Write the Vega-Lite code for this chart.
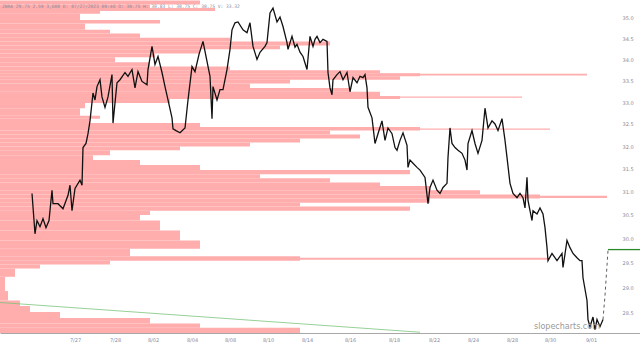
{
  "$schema": "https://vega.github.io/schema/vega-lite/v6.json",
  "width": 640,
  "height": 333,
  "autosize": "none",
  "padding": {"left": 0, "top": 0, "right": 0, "bottom": 12},
  "background": "white",
  "config": {"view": {"stroke": null}},
  "title": {"text": "ZBRA  29.75 2.59 3,600 D: 07/27/2023 09:46 O: 30.75 H: 30.83 L: 30.75 C: 30.75 V: 33.32", "anchor": "start", "frame": "group", "orient": "top", "offset": 0, "dy": 9, "dx": 2, "font": "DejaVu Sans Mono", "fontSize": 4.6, "fontWeight": "normal", "color": "#8a8a9a"},
  "datasets": {
    "profile": [
      {"lo":35.33,"hi":35.43,"vol":200},{"lo":35.24,"hi":35.33,"vol":150},{"lo":35.17,"hi":35.24,"vol":215},{"lo":35.10,"hi":35.17,"vol":100},
      {"lo":34.95,"hi":35.10,"vol":80},{"lo":34.86,"hi":34.95,"vol":160},{"lo":34.71,"hi":34.86,"vol":85},{"lo":34.62,"hi":34.71,"vol":110},
      {"lo":34.52,"hi":34.62,"vol":140},{"lo":34.43,"hi":34.52,"vol":230},{"lo":34.33,"hi":34.43,"vol":330},{"lo":34.24,"hi":34.33,"vol":280},
      {"lo":34.14,"hi":34.24,"vol":200},{"lo":34.05,"hi":34.14,"vol":155},{"lo":33.93,"hi":34.05,"vol":115},{"lo":33.83,"hi":33.93,"vol":150},
      {"lo":33.74,"hi":33.83,"vol":230},{"lo":33.67,"hi":33.74,"vol":380},{"lo":33.60,"hi":33.67,"vol":420},{"lo":33.52,"hi":33.60,"vol":400},
      {"lo":33.43,"hi":33.52,"vol":290},{"lo":33.33,"hi":33.43,"vol":250},{"lo":33.24,"hi":33.33,"vol":350},{"lo":33.14,"hi":33.24,"vol":380},
      {"lo":33.07,"hi":33.14,"vol":400},{"lo":32.98,"hi":33.07,"vol":170},{"lo":32.86,"hi":32.98,"vol":85},{"lo":32.69,"hi":32.86,"vol":80},
      {"lo":32.62,"hi":32.69,"vol":100},{"lo":32.52,"hi":32.62,"vol":90},{"lo":32.43,"hi":32.52,"vol":200},{"lo":32.35,"hi":32.43,"vol":420},
      {"lo":32.26,"hi":32.35,"vol":330},{"lo":32.17,"hi":32.26,"vol":360},{"lo":32.08,"hi":32.17,"vol":300},{"lo":31.99,"hi":32.08,"vol":250},
      {"lo":31.91,"hi":31.99,"vol":180},{"lo":31.80,"hi":31.91,"vol":110},{"lo":31.69,"hi":31.80,"vol":93},{"lo":31.58,"hi":31.69,"vol":140},
      {"lo":31.47,"hi":31.58,"vol":200},{"lo":31.38,"hi":31.47,"vol":410},{"lo":31.29,"hi":31.38,"vol":260},{"lo":31.20,"hi":31.29,"vol":330},
      {"lo":31.12,"hi":31.20,"vol":380},{"lo":31.03,"hi":31.12,"vol":430},{"lo":30.94,"hi":31.03,"vol":480},{"lo":30.85,"hi":30.94,"vol":540},
      {"lo":30.76,"hi":30.85,"vol":430},{"lo":30.68,"hi":30.76,"vol":300},{"lo":30.59,"hi":30.68,"vol":410},{"lo":30.50,"hi":30.59,"vol":150},
      {"lo":30.38,"hi":30.50,"vol":140},{"lo":30.17,"hi":30.38,"vol":160},{"lo":29.96,"hi":30.17,"vol":180},{"lo":29.79,"hi":29.96,"vol":200},
      {"lo":29.63,"hi":29.79,"vol":130},{"lo":29.54,"hi":29.63,"vol":300},{"lo":29.46,"hi":29.54,"vol":110},{"lo":29.38,"hi":29.46,"vol":40},
      {"lo":29.21,"hi":29.38,"vol":15},{"lo":28.92,"hi":29.21,"vol":5},{"lo":28.73,"hi":28.92,"vol":8},{"lo":28.62,"hi":28.73,"vol":20},
      {"lo":28.50,"hi":28.62,"vol":30},{"lo":28.38,"hi":28.50,"vol":60},{"lo":28.27,"hi":28.38,"vol":150},{"lo":28.19,"hi":28.27,"vol":200},
      {"lo":28.085,"hi":28.19,"vol":300},
      {"lo":33.62,"hi":33.66,"vol":587},{"lo":33.10,"hi":33.13,"vol":522},{"lo":32.37,"hi":32.40,"vol":550},{"lo":30.86,"hi":30.91,"vol":607},{"lo":29.56,"hi":29.60,"vol":547}
    ],
    "price": [
      {"t":32,"p":30.96},{"t":35,"p":30.10},{"t":37,"p":30.38},{"t":40,"p":30.25},{"t":43,"p":30.42},{"t":46,"p":30.23},{"t":49,"p":30.38},
      {"t":52,"p":31.03},{"t":53,"p":30.74},{"t":58,"p":30.74},{"t":63,"p":30.63},{"t":68,"p":30.92},{"t":70,"p":31.14},{"t":72,"p":30.59},
      {"t":75,"p":31.07},{"t":80,"p":31.25},{"t":82,"p":31.14},{"t":83,"p":31.97},{"t":86,"p":32.06},{"t":88,"p":32.28},{"t":90,"p":32.57},
      {"t":93,"p":33.21},{"t":95,"p":33.05},{"t":97,"p":33.36},{"t":100,"p":33.52},{"t":102,"p":33.12},{"t":105,"p":32.88},{"t":108,"p":33.12},
      {"t":112,"p":33.64},{"t":113,"p":32.52},{"t":117,"p":33.45},{"t":120,"p":33.52},{"t":125,"p":33.69},{"t":128,"p":33.60},{"t":132,"p":33.76},
      {"t":135,"p":33.33},{"t":138,"p":33.71},{"t":142,"p":33.48},{"t":147,"p":33.40},{"t":148,"p":33.76},{"t":152,"p":34.31},{"t":155,"p":33.88},
      {"t":158,"p":34.07},{"t":162,"p":33.69},{"t":165,"p":33.36},{"t":168,"p":33.05},{"t":172,"p":32.64},{"t":173,"p":32.39},{"t":176,"p":32.35},
      {"t":180,"p":32.30},{"t":185,"p":32.41},{"t":188,"p":33.05},{"t":192,"p":33.83},{"t":195,"p":33.71},{"t":199,"p":34.12},{"t":203,"p":34.43},
      {"t":207,"p":33.95},{"t":210,"p":33.60},{"t":212,"p":32.62},{"t":213,"p":33.36},{"t":217,"p":33.05},{"t":220,"p":33.29},{"t":223,"p":33.29},
      {"t":227,"p":33.76},{"t":230,"p":34.24},{"t":232,"p":34.71},{"t":235,"p":34.88},{"t":238,"p":34.90},{"t":243,"p":34.71},{"t":247,"p":34.64},
      {"t":250,"p":34.88},{"t":253,"p":34.31},{"t":257,"p":34.00},{"t":260,"p":34.17},{"t":265,"p":34.31},{"t":267,"p":34.40},{"t":268,"p":34.64},
      {"t":270,"p":35.12},{"t":273,"p":35.24},{"t":277,"p":34.90},{"t":280,"p":35.02},{"t":283,"p":34.79},{"t":287,"p":34.40},{"t":288,"p":34.24},
      {"t":292,"p":34.55},{"t":295,"p":34.29},{"t":297,"p":34.36},{"t":300,"p":34.17},{"t":303,"p":34.07},{"t":307,"p":33.76},{"t":310,"p":34.55},
      {"t":313,"p":34.31},{"t":315,"p":34.48},{"t":317,"p":34.55},{"t":320,"p":34.40},{"t":323,"p":34.48},{"t":327,"p":34.43},{"t":328,"p":33.69},
      {"t":330,"p":33.33},{"t":332,"p":33.17},{"t":333,"p":33.52},{"t":337,"p":33.64},{"t":340,"p":33.71},{"t":343,"p":33.52},{"t":347,"p":33.69},
      {"t":350,"p":33.24},{"t":353,"p":33.57},{"t":357,"p":33.45},{"t":360,"p":33.60},{"t":363,"p":33.57},{"t":365,"p":33.64},{"t":367,"p":33.33},
      {"t":368,"p":32.88},{"t":372,"p":32.64},{"t":375,"p":32.06},{"t":378,"p":32.28},{"t":382,"p":32.57},{"t":385,"p":32.13},{"t":388,"p":32.41},
      {"t":392,"p":32.28},{"t":395,"p":31.97},{"t":397,"p":31.91},{"t":400,"p":32.13},{"t":403,"p":32.30},{"t":407,"p":32.02},{"t":408,"p":31.53},
      {"t":410,"p":31.69},{"t":413,"p":31.62},{"t":417,"p":31.53},{"t":420,"p":31.47},{"t":425,"p":31.31},{"t":428,"p":30.74},{"t":430,"p":31.09},
      {"t":433,"p":31.25},{"t":437,"p":31.03},{"t":440,"p":30.96},{"t":443,"p":31.09},{"t":447,"p":31.18},{"t":448,"p":31.75},{"t":450,"p":32.41},
      {"t":452,"p":32.06},{"t":455,"p":31.97},{"t":458,"p":31.91},{"t":462,"p":31.84},{"t":465,"p":31.69},{"t":467,"p":31.47},{"t":468,"p":32.06},
      {"t":472,"p":32.35},{"t":475,"p":32.06},{"t":478,"p":31.84},{"t":482,"p":32.13},{"t":485,"p":32.86},{"t":488,"p":32.41},{"t":492,"p":32.57},
      {"t":495,"p":32.50},{"t":498,"p":32.35},{"t":502,"p":32.62},{"t":505,"p":32.13},{"t":507,"p":31.75},{"t":510,"p":31.18},{"t":513,"p":30.96},
      {"t":517,"p":30.87},{"t":520,"p":30.96},{"t":523,"p":30.87},{"t":525,"p":30.65},{"t":527,"p":31.31},{"t":528,"p":30.81},{"t":530,"p":30.59},
      {"t":532,"p":30.38},{"t":533,"p":30.59},{"t":537,"p":30.52},{"t":540,"p":30.65},{"t":543,"p":30.52},{"t":545,"p":30.23},{"t":547,"p":29.81},
      {"t":548,"p":29.54},{"t":552,"p":29.69},{"t":557,"p":29.54},{"t":562,"p":29.69},{"t":563,"p":29.40},{"t":567,"p":29.96},{"t":570,"p":29.81},
      {"t":573,"p":29.69},{"t":577,"p":29.60},{"t":580,"p":29.54},{"t":582,"p":29.54},{"t":583,"p":29.19},{"t":587,"p":28.73},{"t":588,"p":28.35},
      {"t":590,"p":28.21},{"t":593,"p":28.40},{"t":595,"p":28.15},{"t":597,"p":28.35},{"t":600,"p":28.21},{"t":603,"p":28.35}
    ],
    "gap": [{"t":603,"p":28.35},{"t":605,"p":28.83},{"t":608,"p":29.75}],
    "trend": [{"t":0,"p":28.69},{"t":420,"p":28.10}],
    "last": [{"t":608,"p":29.77},{"t":640,"p":29.77}],
    "mark": [{"t":567,"p":28.21,"label":"slopecharts.com"}]
  },
  "resolve": {"scale": {"x": "independent"}},
  "layer": [
    {
      "data": {"name": "profile"},
      "mark": {"type": "rect", "color": "#ffadad"},
      "encoding": {
        "x": {"field": "vol", "type": "quantitative", "scale": {"domain": [0, 640], "nice": false}, "axis": null},
        "x2": {"datum": 0},
        "y": {"field": "lo", "type": "quantitative", "scale": {"type": "log", "domain": [28.085, 35.44], "nice": false, "zero": false}, "axis": {"orient": "right", "offset": -20, "values": [28.5,29,29.5,30,30.5,31,31.5,32,32.5,33,33.5,34,34.5,35], "format": ".1f", "title": null, "ticks": false, "domain": false, "grid": false, "labelFontSize": 5, "labelColor": "#8a8a9a", "labelPadding": 2, "labelFont": "DejaVu Sans", "labelOverlap": false}},
        "y2": {"field": "hi"}
      }
    },
    {
      "layer": [
        {
          "data": {"name": "trend"},
          "mark": {"type": "line", "color": "#7cc47c", "strokeWidth": 0.8},
          "encoding": {
            "x": {"field": "t", "type": "quantitative", "scale": {"domain": [0, 640], "nice": false}, "axis": {"values": [75,115,153,192,230,268,307,350,394,434,473,512,550,591], "labelExpr": "['7/27','7/28','8/02','8/04','8/08','8/10','8/14','8/16','8/18','8/22','8/24','8/28','8/30','9/01'][indexof([75,115,153,192,230,268,307,350,394,434,473,512,550,591], datum.value)]", "title": null, "ticks": false, "grid": false, "domain": true, "domainColor": "#a8a8a8", "domainWidth": 1, "labelFontSize": 5, "labelColor": "#8a8a9a", "labelPadding": 4, "labelFont": "DejaVu Sans"}},
            "y": {"field": "p", "type": "quantitative", "scale": {"type": "log", "domain": [28.085, 35.44], "nice": false, "zero": false}, "axis": {"orient": "right", "offset": -20, "values": [28.5,29,29.5,30,30.5,31,31.5,32,32.5,33,33.5,34,34.5,35], "format": ".1f", "title": null, "ticks": false, "domain": false, "grid": false, "labelFontSize": 5, "labelColor": "#8a8a9a", "labelPadding": 2, "labelFont": "DejaVu Sans", "labelOverlap": false}}
          }
        },
        {
          "data": {"name": "price"},
          "mark": {"type": "line", "color": "#111111", "strokeWidth": 1.3},
          "encoding": {
            "x": {"field": "t", "type": "quantitative"},
            "y": {"field": "p", "type": "quantitative"}
          }
        },
        {
          "data": {"name": "gap"},
          "mark": {"type": "line", "color": "#333333", "strokeWidth": 0.8, "strokeDash": [3, 3]},
          "encoding": {
            "x": {"field": "t", "type": "quantitative"},
            "y": {"field": "p", "type": "quantitative"}
          }
        },
        {
          "data": {"name": "last"},
          "mark": {"type": "line", "color": "#2a8a2a", "strokeWidth": 1.3},
          "encoding": {
            "x": {"field": "t", "type": "quantitative"},
            "y": {"field": "p", "type": "quantitative"}
          }
        },
        {
          "data": {"name": "mark"},
          "mark": {"type": "text", "color": "#9a9a9a", "fontSize": 8, "font": "DejaVu Sans", "baseline": "middle", "align": "center"},
          "encoding": {
            "x": {"field": "t", "type": "quantitative"},
            "y": {"field": "p", "type": "quantitative"},
            "text": {"field": "label"}
          }
        }
      ]
    }
  ]
}
